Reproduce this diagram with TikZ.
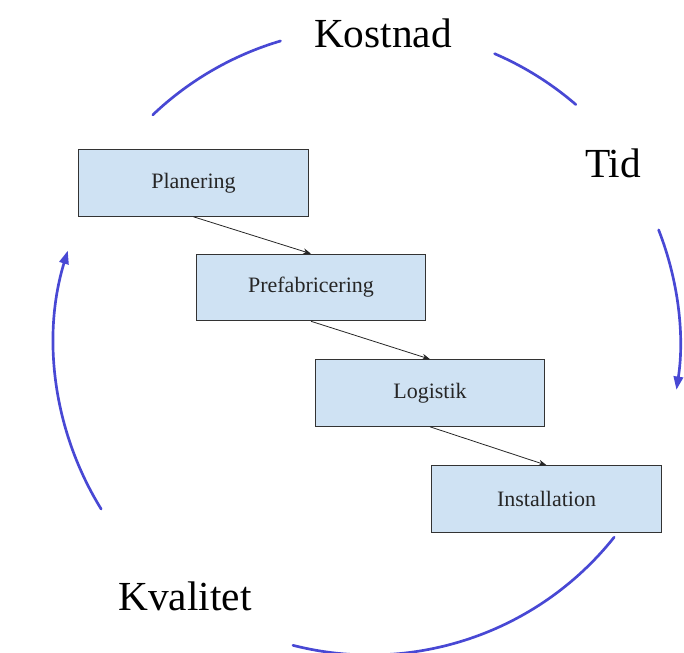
\documentclass[tikz,border=0pt]{standalone}
\usepackage{fontspec}
\setmainfont{Liberation Serif}
\usetikzlibrary{arrows.meta}
\definecolor{pcFill}{RGB}{207,226,243}
\definecolor{pcBlue}{RGB}{72,72,212}
\begin{document}
\begin{tikzpicture}[
    x=0.75pt, y=0.75pt,
    pcStep/.style={rectangle, draw=black!80, line width=0.7pt, fill=pcFill, minimum width=172pt, minimum height=50pt, inner sep=0pt, font=\fontsize{16.5}{18}\selectfont, text=black!85},
    pcFlow/.style={-{Stealth[length=6pt,width=4.5pt]}, line width=0.6pt, black!85},
    pcCycle/.style={pcBlue, line width=2pt, line cap=round},
    pcTip/.style={-{Triangle[length=10pt,width=7pt]}},
    pcLabel/.style={font=\fontsize{31}{34}\selectfont, anchor=base}
]
\useasboundingbox (0,0) rectangle (684,652);
\coordinate (ctr) at (370,309);
% cycle round the chain
\draw[pcCycle] ([shift={(133.6:315)}]ctr) arc (133.6:106.5:315);
\draw[pcCycle] ([shift={(66.7:315)}]ctr) arc (66.7:49.2:315);
\draw[pcCycle, pcTip] ([shift={(21.4:310)}]ctr) arc (21.4:-8.7:310);
\draw[pcCycle] ([shift={(-38.5:312)}]ctr) arc (-38.5:-104.3:312);
\draw[pcCycle, pcTip] ([shift={(211.7:316)}]ctr) arc (211.7:163:316);
% steps
\node[pcStep] (plan) at (193.5,469) {Planering};
\node[pcStep] (prefab) at (311,364.5) {Prefabricering};
\node[pcStep] (logist) at (430,259) {Logistik};
\node[pcStep] (install) at (546.5,153) {Installation};
\draw[pcFlow] (plan.south) -- (prefab.north);
\draw[pcFlow] (prefab.south) -- (logist.north);
\draw[pcFlow] (logist.south) -- (install.north);
% labels
\node[pcLabel] (cost) at (383,604) {Kostnad};
\node[pcLabel] (time) at (613,474) {Tid};
\node[pcLabel] (qual) at (185,41) {Kvalitet};
\end{tikzpicture}
\end{document}
